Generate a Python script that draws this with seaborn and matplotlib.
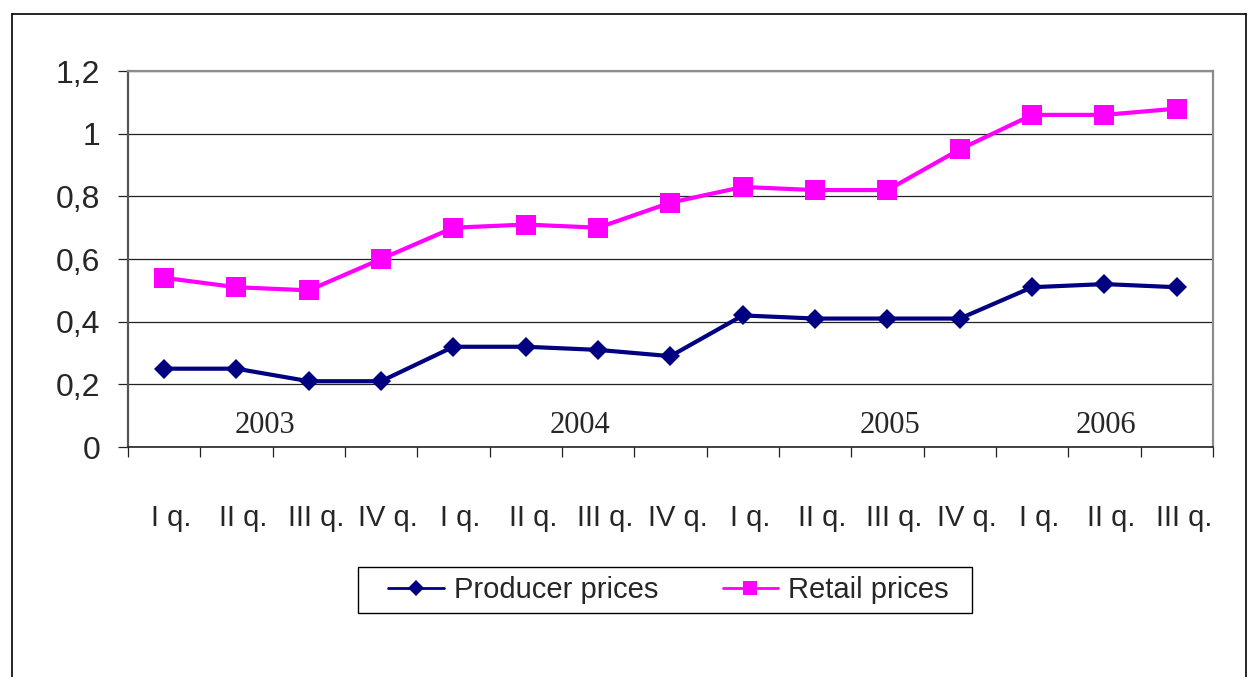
import numpy as np
import pandas as pd
import matplotlib
matplotlib.use("Agg")
import matplotlib.pyplot as plt
import matplotlib.transforms as mtransforms
from matplotlib.lines import Line2D
from matplotlib.patches import Rectangle
import seaborn as sns

# data
quarters = ["I q.", "II q.", "III q.", "IV q.",
            "I q.", "II q.", "III q.", "IV q.",
            "I q.", "II q.", "III q.", "IV q.",
            "I q.", "II q.", "III q."]
producer = [0.25, 0.25, 0.21, 0.21, 0.32, 0.32, 0.31, 0.29,
            0.42, 0.41, 0.41, 0.41, 0.51, 0.52, 0.51]
retail = [0.54, 0.51, 0.50, 0.60, 0.70, 0.71, 0.70, 0.78,
          0.83, 0.82, 0.82, 0.95, 1.06, 1.06, 1.08]
years = ["2003", "2004", "2005", "2006"]
year_pos = [1.4, 5.75, 10.03, 13.02]
y_ticks = [0, 0.2, 0.4, 0.6, 0.8, 1.0, 1.2]
y_labels = ["0", "0,2", "0,4", "0,6", "0,8", "1", "1,2"]

df = pd.DataFrame({"idx": np.arange(len(quarters)),
                   "Producer prices": producer,
                   "Retail prices": retail})

sns.set_style("white")
plt.rcParams["font.family"] = ["Liberation Sans", "DejaVu Sans"]

fig, ax = plt.subplots(figsize=(12.58, 6.77), dpi=100)
fig.subplots_adjust(left=0.1017, right=0.9642, bottom=0.3397, top=0.8951)

sns.lineplot(data=df, x="idx", y="Producer prices", ax=ax, color="#000080",
             marker="D", markersize=10.5, markeredgewidth=0, linewidth=3,
             label="Producer prices")
sns.lineplot(data=df, x="idx", y="Retail prices", ax=ax, color="#FF00FF",
             marker="s", markersize=14, markeredgewidth=0, linewidth=3,
             label="Retail prices")

ax.set_xlim(-0.5, len(quarters) - 0.5)
ax.set_ylim(0, 1.2)
ax.set_xlabel("")
ax.set_ylabel("")

# grid
ax.set_yticks(y_ticks, labels=y_labels)
ax.yaxis.grid(True, color="#222222", linewidth=0.9)
ax.xaxis.grid(False)
ax.set_axisbelow(True)
ax.tick_params(axis="y", length=7, width=0.9, color="#222222", pad=13,
               labelsize=23, direction="out", left=True)

# boundary ticks (major) and centred labels (minor)
ax.set_xticks(np.arange(-0.5, len(quarters), 1))
ax.set_xticklabels([])
ax.set_xticks(np.arange(len(quarters)), labels=quarters, minor=True)
ax.tick_params(axis="x", which="major", length=7, width=0.9, color="#222222",
               direction="out", bottom=True)
ax.tick_params(axis="x", which="minor", length=0, pad=41, labelsize=21)
shift = mtransforms.ScaledTranslation(7 / 100, 0, fig.dpi_scale_trans)
for lab in ax.get_xticklabels(minor=True):
    lab.set_transform(lab.get_transform() + shift)

for side in ["top", "right"]:
    ax.spines[side].set_visible(True)
    ax.spines[side].set_color("#8c8c8c")
    ax.spines[side].set_linewidth(1.6)
ax.spines["left"].set_color("#555555")
ax.spines["left"].set_linewidth(1.6)
ax.spines["bottom"].set_color("#222222")
ax.spines["bottom"].set_linewidth(1.2)

for yr, xp in zip(years, year_pos):
    ax.text(xp, 0.07, yr, ha="center", va="center", fontsize=22,
            family=["Liberation Serif", "DejaVu Serif"])

if ax.legend_:
    ax.legend_.remove()
handles, labels = ax.get_legend_handles_labels()
leg = fig.legend(handles, labels, loc="center", bbox_to_anchor=(0.5315, 0.1285),
                 ncol=2, fontsize=21, frameon=False, handlelength=1.9,
                 handletextpad=0.35, columnspacing=2.2, borderpad=0.3)
for h in leg.legend_handles:
    h.set_linewidth(2)
    h.set_markersize(h.get_markersize() * 0.75)
# legend box, wider than matplotlib's own frame would be
fig.add_artist(Rectangle((358 / 1258, 1 - 613 / 677), 614 / 1258, 46 / 677,
                         transform=fig.transFigure, fill=False,
                         edgecolor="black", linewidth=1.0))

# outer frame around the chart (bottom edge falls outside the picture)
fx0, fx1, fy1 = 12 / 1258, 1246 / 1258, 1 - 14 / 677
for xs, ys in [([fx0, fx1], [fy1, fy1]), ([fx0, fx0], [fy1, -0.1]),
               ([fx1, fx1], [fy1, -0.1])]:
    fig.add_artist(Line2D(xs, ys, transform=fig.transFigure,
                          color="black", linewidth=1.2))

fig.savefig("out.png", dpi=100)
